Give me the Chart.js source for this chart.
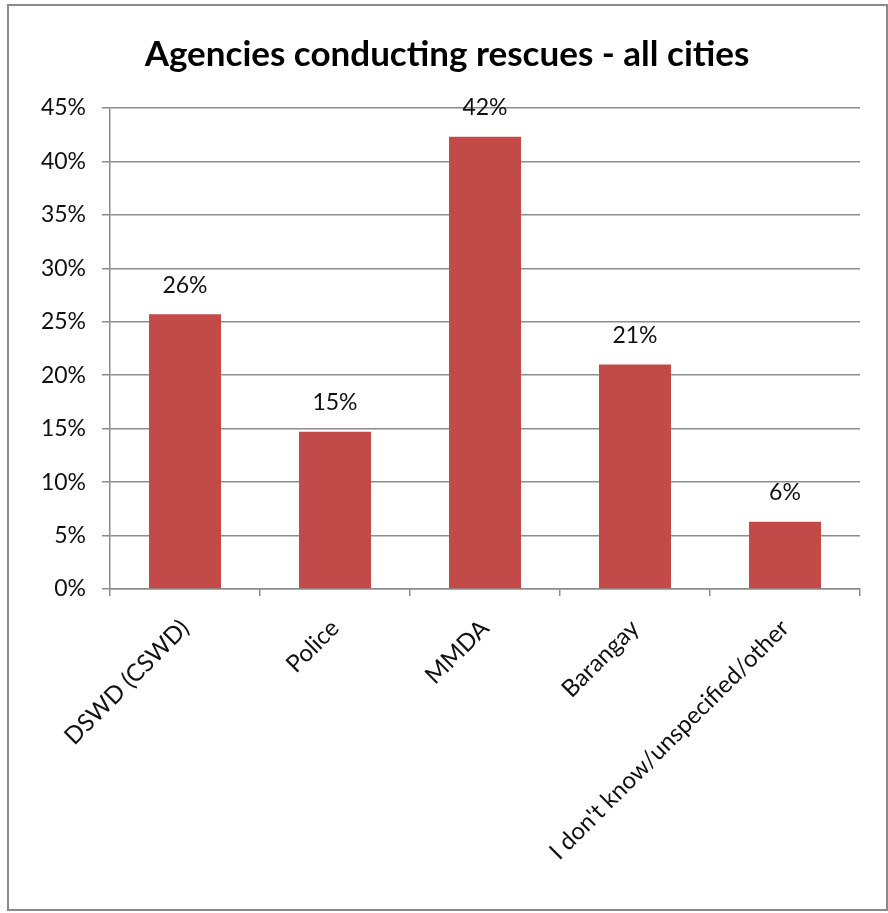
<!DOCTYPE html>
<html><head><meta charset="utf-8">
<script src="https://cdn.jsdelivr.net/npm/chart.js@4.4.0/dist/chart.umd.min.js"></script>
<style>
html,body{margin:0;padding:0;background:#fff;}
#wrap{position:relative;width:888px;height:913px;}
#frame{position:absolute;left:7px;top:4px;width:877px;height:903px;border:2px solid #8a8a8a;pointer-events:none;}
canvas{position:absolute;left:0;top:0;}
</style></head><body>
<div id="wrap"><canvas id="c" width="888" height="913"></canvas><div id="frame"></div></div>
<script>
const chartTitle = 'Agencies conducting rescues - all cities';
const categories = ['DSWD (CSWD)', 'Police', 'MMDA', 'Barangay', "I don't know/unspecified/other"];
const values = [25.7, 14.7, 42.3, 21.0, 6.3];
const yMin = 0, yMax = 45, yStep = 5;

const FONT = 'Lato, "Open Sans", sans-serif';

const dataLabelPlugin = {
  id: 'dl',
  afterDatasetsDraw(chart) {
    const ctx = chart.ctx;
    const meta = chart.getDatasetMeta(0);
    ctx.save();
    ctx.font = '23px ' + FONT;
    ctx.fillStyle = '#111';
    ctx.textAlign = 'center';
    ctx.textBaseline = 'middle';
    meta.data.forEach((bar, i) => {
      ctx.fillText(Math.round(values[i]) + '%', bar.x, bar.y - 29);
    });
    ctx.restore();
  }
};

new Chart(document.getElementById('c'), {
  type: 'bar',
  data: {
    labels: categories,
    datasets: [{
      data: values,
      backgroundColor: '#C24B4A',
      borderWidth: 0,
      categoryPercentage: 1,
      barPercentage: 0.48
    }]
  },
  options: {
    responsive: false,
    animation: false,
    layout: { padding: { left: 6, right: 0, top: 0, bottom: 0 } },
    plugins: {
      legend: { display: false },
      tooltip: { enabled: false },
      title: {
        display: true,
        text: chartTitle,
        color: '#000',
        font: { family: FONT, size: 35, weight: 'bold', lineHeight: 1.2 },
        padding: { top: 34, bottom: 32 }
      }
    },
    scales: {
      x: {
        grid: { display: true, drawOnChartArea: false, drawTicks: true, tickLength: 7, color: '#8c8c8c', lineWidth: 1.5, offset: true },
        border: { display: true, color: '#8c8c8c', width: 1.5 },
        ticks: { color: '#111', font: { family: FONT, size: 24 }, minRotation: 45, maxRotation: 45, autoSkip: false, padding: 18 },
        afterFit(scale) { scale.height = 913 - 589; }
      },
      y: {
        min: yMin, max: yMax,
        grid: { color: '#8c8c8c', lineWidth: 1.5, tickLength: 8 },
        border: { display: true, color: '#8c8c8c', width: 1.5 },
        ticks: { stepSize: yStep, color: '#111', font: { family: FONT, size: 23 }, padding: 16,
                 callback: v => v + '%' },
        afterFit(scale) { scale.width = 104; }
      },
      yRightSpace: {
        position: 'right',
        display: true,
        grid: { display: false },
        border: { display: false },
        ticks: { display: false },
        afterFit(scale) { scale.width = 28; }
      }
    }
  },
  plugins: [dataLabelPlugin]
});
</script>
</body></html>
